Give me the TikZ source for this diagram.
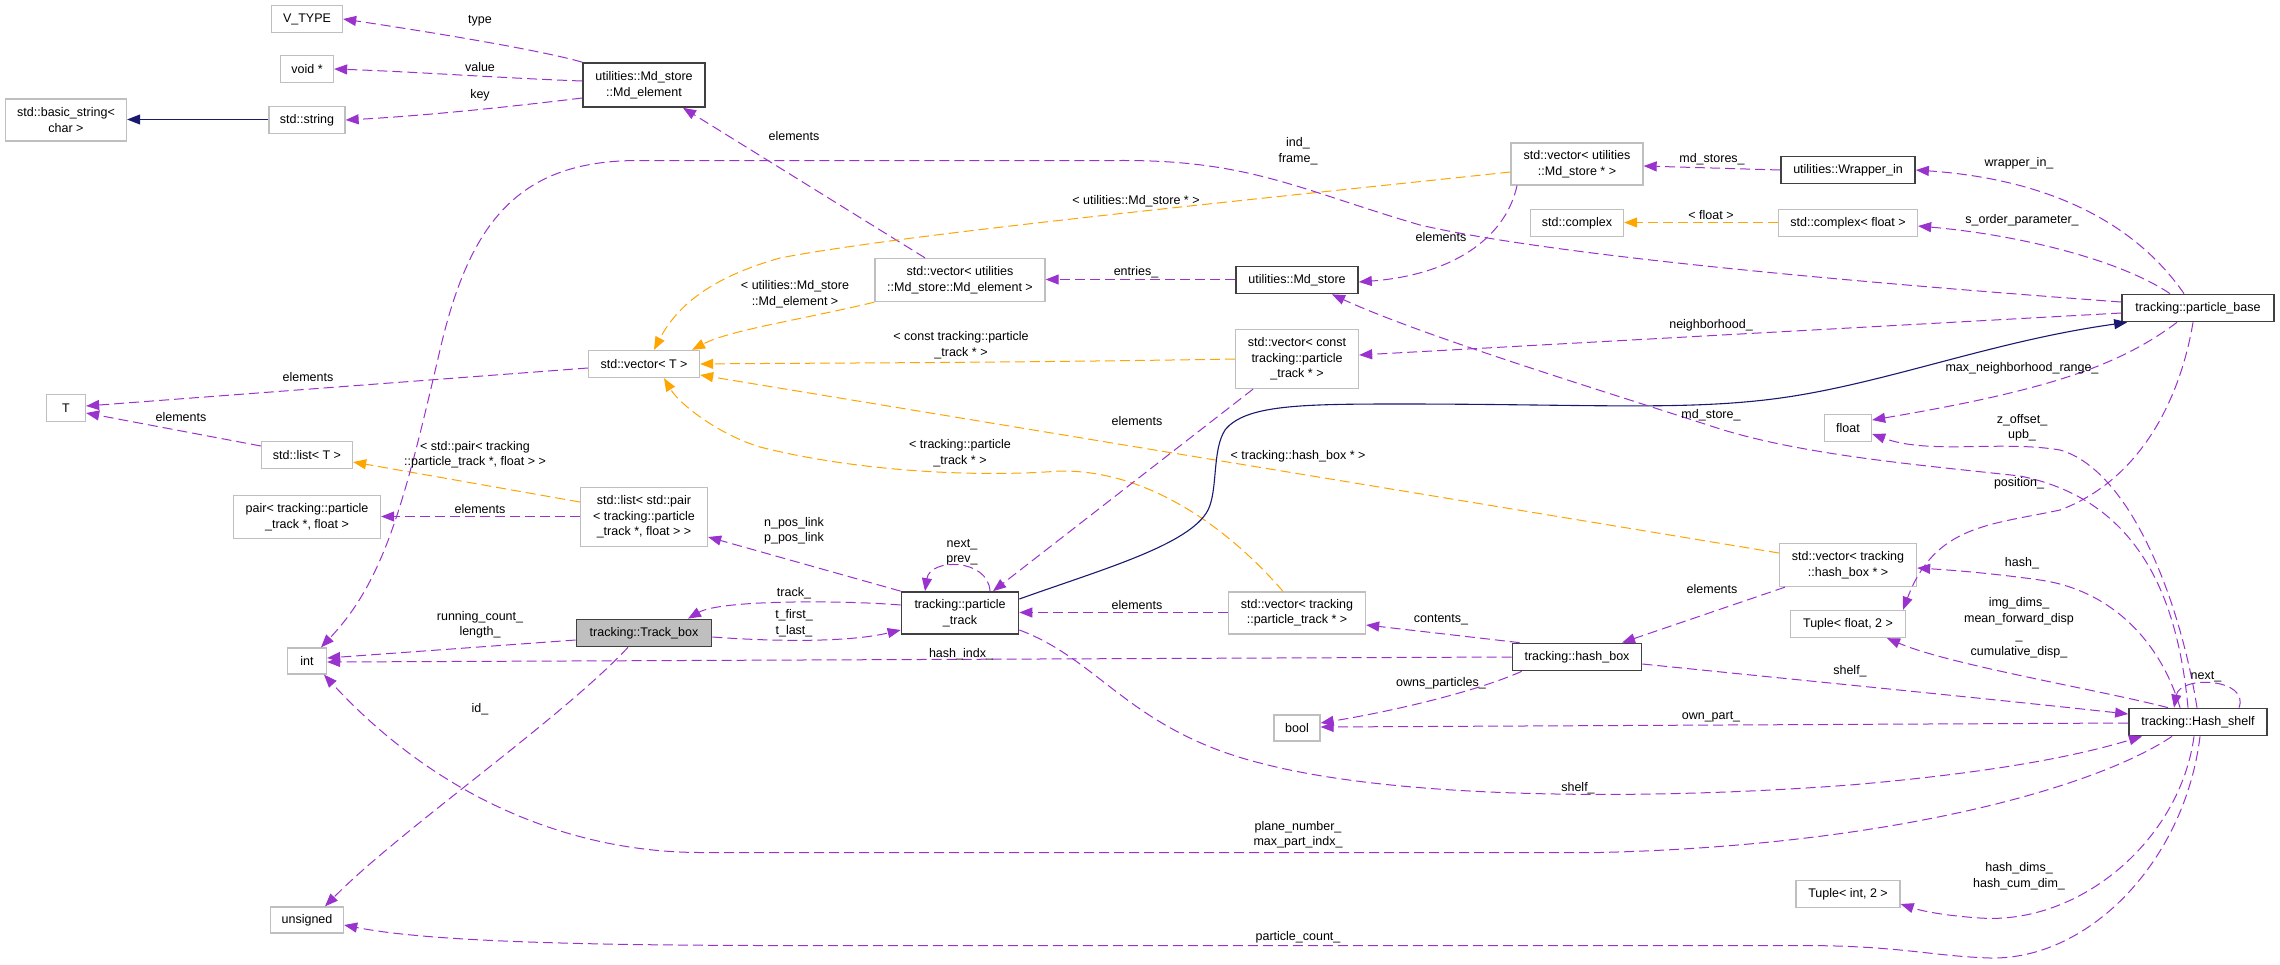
\documentclass[tikz,border=0pt]{standalone}
\usepackage{fontspec}
\setmainfont{Liberation Sans}
\usetikzlibrary{arrows.meta}
\definecolor{cpurple}{HTML}{9A32CD}
\definecolor{corange}{HTML}{FFA500}
\definecolor{cnavy}{HTML}{191970}
\definecolor{cgrey}{HTML}{BFBFBF}
\definecolor{cdark}{HTML}{404040}
\begin{document}
\begin{tikzpicture}[x=1pt,y=-1pt,
  every node/.style={font=\fontsize{12.5}{15.5}\selectfont},
  cls/.style={draw=cgrey, line width=1.3pt, fill=white, inner sep=0pt, align=center},
  bcls/.style={cls, draw=cdark, line width=1.7pt},
  mcls/.style={cls, draw=cdark, line width=1.7pt, fill=cgrey},
  lbl/.style={inner sep=0pt, align=center},
  memb/.style={draw=cpurple, line width=1pt, dash pattern=on 10pt off 5pt, -{Triangle[length=13pt,width=10pt]}},
  tmpl/.style={draw=corange, line width=1pt, dash pattern=on 10pt off 5pt, -{Triangle[length=13pt,width=10pt]}},
  inh/.style={draw=cnavy, line width=1.1pt, -{Triangle[length=13pt,width=10pt]}}
]
\fill[white] (0,0) rectangle (2280,964);
\useasboundingbox (0,0) rectangle (2280,964);

% nodes
\node[cls, minimum width=71pt, minimum height=27pt] (vtype) at (307,19) {V\_TYPE};
\node[cls, minimum width=53pt, minimum height=27pt] (voidp) at (307,69) {void *};
\node[cls, minimum width=76pt, minimum height=27pt] (stdstr) at (307,120) {std::string};
\node[cls, minimum width=121pt, minimum height=42pt] (bstr) at (66,120) {std::basic\_string\textless\\char \textgreater};
\node[bcls, minimum width=122pt, minimum height=44pt] (mdel) at (644,85) {utilities::Md\_store\\::Md\_element};
\node[cls, minimum width=170pt, minimum height=43pt] (vecmdel) at (960,280) {std::vector\textless{} utilities\\::Md\_store::Md\_element \textgreater};
\node[bcls, minimum width=122pt, minimum height=27pt] (mdstore) at (1297,280) {utilities::Md\_store};
\node[cls, minimum width=132pt, minimum height=42pt] (vecmdsp) at (1577,164) {std::vector\textless{} utilities\\::Md\_store * \textgreater};
\node[bcls, minimum width=134pt, minimum height=27pt] (wrap) at (1848,170) {utilities::Wrapper\_in};
\node[cls, minimum width=93pt, minimum height=27pt] (cplx) at (1577,223) {std::complex};
\node[cls, minimum width=139pt, minimum height=27pt] (cplxf) at (1848,223) {std::complex\textless{} float \textgreater};
\node[bcls, minimum width=152pt, minimum height=27pt] (pbase) at (2198,308) {tracking::particle\_base};
\node[cls, minimum width=111pt, minimum height=27pt] (vecT) at (644,364) {std::vector\textless{} T \textgreater};
\node[cls, minimum width=39pt, minimum height=27pt] (tT) at (66,408) {T};
\node[cls, minimum width=91pt, minimum height=27pt] (listT) at (307,455) {std::list\textless{} T \textgreater};
\node[cls, minimum width=147pt, minimum height=43pt] (pairn) at (307,517) {pair\textless{} tracking::particle\\\_track *, float \textgreater};
\node[cls, minimum width=127pt, minimum height=59pt] (listpair) at (644,517) {std::list\textless{} std::pair\\\textless{} tracking::particle\\\_track *, float \textgreater{} \textgreater};
\node[mcls, minimum width=135pt, minimum height=27pt] (trackbox) at (644,633) {tracking::Track\_box};
\node[cls, minimum width=123pt, minimum height=59pt] (vecconst) at (1297,359) {std::vector\textless{} const\\tracking::particle\\\_track * \textgreater};
\node[bcls, minimum width=117pt, minimum height=42pt] (ptrack) at (960,613) {tracking::particle\\\_track};
\node[cls, minimum width=137pt, minimum height=42pt] (vecpt) at (1297,613) {std::vector\textless{} tracking\\::particle\_track * \textgreater};
\node[cls, minimum width=47pt, minimum height=27pt] (floatn) at (1848,428) {float};
\node[cls, minimum width=137pt, minimum height=43pt] (vechb) at (1848,565) {std::vector\textless{} tracking\\::hash\_box * \textgreater};
\node[cls, minimum width=115pt, minimum height=27pt] (tupf) at (1848,624) {Tuple\textless{} float, 2 \textgreater};
\node[cls, minimum width=39pt, minimum height=26pt] (intn) at (307,661) {int};
\node[cls, minimum width=73pt, minimum height=26pt] (unsig) at (307,920) {unsigned};
\node[cls, minimum width=46pt, minimum height=26pt] (booln) at (1297,728) {bool};
\node[bcls, minimum width=129pt, minimum height=27pt] (hashbox) at (1577,657) {tracking::hash\_box};
\node[bcls, minimum width=138pt, minimum height=27pt] (hshelf) at (2198,722) {tracking::Hash\_shelf};
\node[cls, minimum width=104pt, minimum height=27pt] (tupi) at (1848,894) {Tuple\textless{} int, 2 \textgreater};

% edges
\draw[memb] (mdel.north west) .. controls (540,50) and (430,32) .. (vtype.east);
\draw[memb] ([yshift=4pt]mdel.west) .. controls (500,78) and (420,72) .. (voidp.east);
\draw[memb] ([yshift=-13pt]mdel.west) .. controls (500,108) and (420,116) .. (stdstr.east);
\draw[inh] ([yshift=0.5pt]stdstr.west) -- ([yshift=0.5pt]bstr.east);
\draw[memb] ([xshift=-35pt]vecmdel.north) -- ([xshift=39pt]mdel.south);
\draw[tmpl] ([yshift=-8pt]vecmdsp.west) .. controls (1200,205) and (900,235) .. (780,258) .. controls (720,275) and (680,300) .. ([xshift=10pt]vecT.north);
\draw[tmpl] (vecmdel.south west) .. controls (800,320) and (730,330) .. ([xshift=48pt]vecT.north);
\draw[tmpl] (vecconst.west) .. controls (1000,363) and (800,363) .. (vecT.east);
\draw[tmpl] ([xshift=-14pt]vecpt.north) .. controls (1230,530) and (1150,470) .. (1060,471) .. controls (970,478) and (850,470) .. (760,447) .. controls (720,435) and (680,405) .. ([xshift=20pt]vecT.south);
\draw[tmpl] ([yshift=12pt]vechb.west) -- ([yshift=-11pt]vecT.east);
\draw[memb] ([yshift=-4pt]vecT.west) -- ([yshift=2pt]tT.east);
\draw[memb] ([yshift=9pt]listT.west) -- ([yshift=-5pt]tT.east);
\draw[tmpl] ([yshift=15pt]listpair.west) -- ([yshift=-7pt]listT.east);
\draw[memb] ([yshift=0.5pt]listpair.west) -- ([yshift=0.5pt]pairn.east);
\draw[memb] (ptrack.north west) -- ([yshift=-20pt]listpair.east);
\draw[memb] ([xshift=30pt]ptrack.north) .. controls (988,558) and (930,558) .. ([xshift=-35pt]ptrack.north);
\draw[memb] ([xshift=-44pt]vecconst.south) -- ([xshift=33pt]ptrack.north);
\draw[memb] ([yshift=-5pt]pbase.west) -- ([yshift=4pt]vecconst.east);
\draw[inh] ([yshift=14pt]ptrack.east) .. controls (1100,570) and (1190,545) .. (1208,510) .. controls (1218,490) and (1212,450) .. (1225,430) .. controls (1245,405) and (1300,404) .. (1400,404) .. controls (1600,404) and (1700,412) .. (1800,395) .. controls (1900,378) and (2000,340) .. ([xshift=6pt]pbase.south west);
\draw[memb] ([yshift=8pt]ptrack.west) .. controls (840,600) and (720,600) .. ([xshift=44pt]trackbox.north);
\draw[memb] ([yshift=-4pt]trackbox.east) .. controls (780,642) and (850,642) .. ([yshift=-17pt]ptrack.west);
\draw[memb] ([yshift=-7pt]trackbox.west) -- ([yshift=3pt]intn.east);
\draw[memb] (hashbox.west) -- ([yshift=-1pt]intn.east);
\draw[memb] ([yshift=6pt]pbase.west) .. controls (1850,282) and (1550,255) .. (1420,225) .. controls (1300,190) and (1250,160) .. (1120,160.5) -- (640,160.5) .. controls (520,160) and (470,220) .. (440,350) .. controls (405,500) and (385,580) .. ([xshift=14pt]intn.north);
\draw[memb] ([xshift=-60pt]vecmdsp.south) .. controls (1505,240) and (1450,275) .. ([yshift=-2pt]mdstore.east);
\draw[memb] ([yshift=0.5pt]mdstore.west) -- ([yshift=0.5pt]vecmdel.east);
\draw[memb] (wrap.west) -- ([yshift=-2pt]vecmdsp.east);
\draw[memb] ([xshift=-14pt]pbase.north) .. controls (2140,230) and (2060,180) .. (wrap.east);
\draw[tmpl] ([yshift=0.5pt]cplxf.west) -- ([yshift=0.5pt]cplx.east);
\draw[memb] ([xshift=-28pt]pbase.north) .. controls (2120,260) and (2020,235) .. ([yshift=-3pt]cplxf.east);
\draw[memb] ([xshift=-10pt]hshelf.north) .. controls (2178,600) and (2140,500) .. (2020,476) .. controls (1920,465) and (1800,455) .. (1714,427) .. controls (1600,390) and (1420,335) .. ([xshift=35pt]mdstore.south);
\draw[memb] ([xshift=-1pt]hshelf.north) .. controls (2180,600) and (2130,470) .. (2060,450) .. controls (2000,440) and (1930,455) .. ([yshift=-6pt]floatn.east);
\draw[memb] ([xshift=-21pt]pbase.south) .. controls (2120,365) and (2050,390) .. ([yshift=8pt]floatn.east);
\draw[memb] ([xshift=-5pt]pbase.south) .. controls (2180,400) and (2140,480) .. (2060,510) .. controls (1990,525) and (1935,525) .. ([xshift=55pt]tupf.north);
\draw[memb] ([xshift=-18pt]hshelf.north) .. controls (2160,640) and (2110,590) .. (2040,580) .. controls (1990,573) and (1950,570) .. ([yshift=-3pt]vechb.east);
\draw[memb] ([xshift=-30pt]hshelf.north) .. controls (2100,690) and (1950,665) .. ([xshift=39pt]tupf.south);
\draw[memb] ([xshift=41pt]hshelf.north) .. controls (2250,678) and (2180,675) .. ([xshift=-24pt]hshelf.north);
\draw[memb] ([yshift=-7pt]hashbox.east) .. controls (1800,680) and (2000,700) .. ([yshift=8pt]hshelf.west);
\draw[memb] ([yshift=-1pt]hshelf.west) -- ([yshift=1pt]booln.east);
\draw[memb] ([xshift=10pt]hashbox.south west) .. controls (1480,690) and (1400,710) .. ([yshift=5pt]booln.east);
\draw[memb] ([yshift=-17pt]ptrack.east) .. controls (1100,660) and (1130,730) .. (1260,763) .. controls (1400,800) and (1650,800) .. (1850,785) .. controls (2000,772) and (2080,755) .. ([xshift=-56pt]hshelf.south);
\draw[memb] ([xshift=-26pt]hshelf.south) .. controls (2100,785) and (1900,845) .. (1600,852.5) -- (700,852.5) .. controls (560,852) and (430,790) .. ([xshift=17pt]intn.south);
\draw[memb] ([xshift=-4pt]hshelf.south) .. controls (2180,840) and (2080,925) .. (1980,918) .. controls (1950,916) and (1925,912) .. ([yshift=-10pt]tupi.east);
\draw[memb] ([xshift=2pt]hshelf.south) .. controls (2185,860) and (2090,960) .. (1990,958) .. controls (1930,956) and (1900,945.5) .. (1800,945.5) -- (760,945.5) .. controls (550,945) and (420,940) .. ([yshift=-5pt]unsig.east);
\draw[memb] ([xshift=-16pt]trackbox.south) .. controls (560,720) and (400,830) .. ([xshift=18pt]unsig.north);
\draw[memb] ([xshift=8pt]hashbox.north west) -- ([yshift=-12pt]vecpt.east);
\draw[memb] ([yshift=0.5pt]vecpt.west) -- ([yshift=0.5pt]ptrack.east);
\draw[memb] ([xshift=-63pt]vechb.south) -- ([xshift=45pt]hashbox.north);

% labels
\node[lbl] (l1) at (480,21) {type};
\node[lbl] (l2) at (480,67) {value};
\node[lbl] (l3) at (480,95) {key};
\node[lbl] (l5) at (794,136) {elements};
\node[lbl] (l6a) at (1136,201) {\textless{} utilities::Md\_store * \textgreater};
\node[lbl] (l6b) at (795,294) {\textless{} utilities::Md\_store\\::Md\_element \textgreater};
\node[lbl] (l6c) at (961,345) {\textless{} const tracking::particle\\\_track * \textgreater};
\node[lbl] (l6d) at (960,453) {\textless{} tracking::particle\\\_track * \textgreater};
\node[lbl] (l6e) at (1298,456) {\textless{} tracking::hash\_box * \textgreater};
\node[lbl] (l7) at (308,377) {elements};
\node[lbl] (l8) at (181,417) {elements};
\node[lbl] (l9) at (475,455) {\textless{} std::pair\textless{} tracking\\::particle\_track *, float \textgreater{} \textgreater};
\node[lbl] (l10) at (480,509) {elements};
\node[lbl] (l11) at (794,531) {n\_pos\_link\\p\_pos\_link};
\node[lbl] (l12) at (962,552) {next\_\\prev\_};
\node[lbl] (l13) at (1137,421) {elements};
\node[lbl] (l14) at (1711,325) {neighborhood\_};
\node[lbl] (l16) at (794,593) {track\_};
\node[lbl] (l17) at (794,623) {t\_first\_\\t\_last\_};
\node[lbl] (l18) at (480,625) {running\_count\_\\length\_};
\node[lbl] (l19) at (961,654) {hash\_indx\_};
\node[lbl] (l20) at (1298,151) {ind\_\\frame\_};
\node[lbl] (l21) at (1441,237) {elements};
\node[lbl] (l22) at (1136,272) {entries\_};
\node[lbl] (l23) at (1712,159) {md\_stores\_};
\node[lbl] (l24) at (2019,163) {wrapper\_in\_};
\node[lbl] (l25) at (1711,215) {\textless{} float \textgreater};
\node[lbl] (l26) at (2022,220) {s\_order\_parameter\_};
\node[lbl] (l27) at (1711,415) {md\_store\_};
\node[lbl] (l28) at (2022,428) {z\_offset\_\\upb\_};
\node[lbl] (l29) at (2022,368) {max\_neighborhood\_range\_};
\node[lbl] (l30) at (2019,483) {position\_};
\node[lbl] (l31) at (2022,563) {hash\_};
\node[lbl, font=\fontsize{12.5}{16.5}\selectfont] (l32) at (2019,628) {img\_dims\_\\mean\_forward\_disp\\\_\\cumulative\_disp\_};
\node[lbl] (l33) at (2206,677) {next\_};
\node[lbl] (l34) at (1850,671) {shelf\_};
\node[lbl] (l35) at (1711,717) {own\_part\_};
\node[lbl] (l36) at (1441,683) {owns\_particles\_};
\node[lbl] (l37) at (1578,788) {shelf\_};
\node[lbl] (l38) at (1298,835) {plane\_number\_\\max\_part\_indx\_};
\node[lbl] (l39) at (2019,876) {hash\_dims\_\\hash\_cum\_dim\_};
\node[lbl] (l40) at (1298,937) {particle\_count\_};
\node[lbl] (l41) at (480,709) {id\_};
\node[lbl] (l42) at (1441,620) {contents\_};
\node[lbl] (l43) at (1137,605) {elements};
\node[lbl] (l44) at (1712,589) {elements};
\end{tikzpicture}
\end{document}
